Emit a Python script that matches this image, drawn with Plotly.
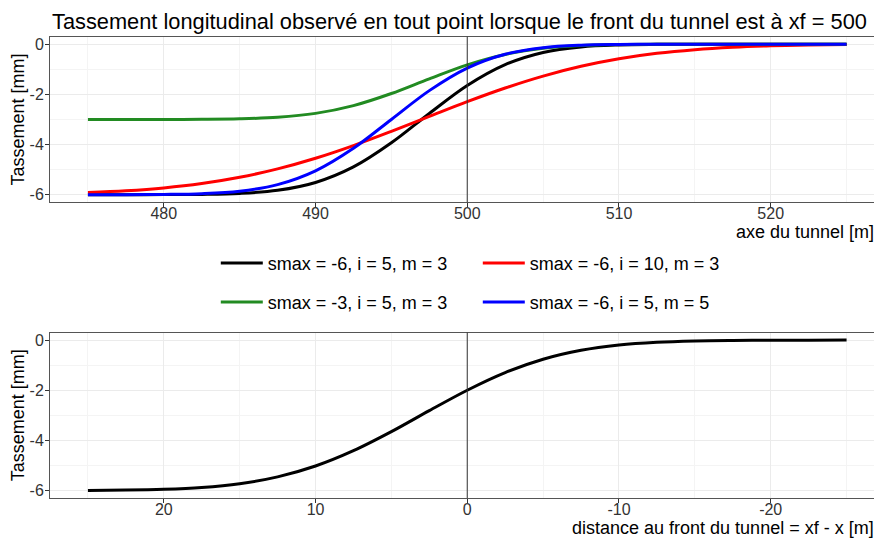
import plotly.graph_objects as go

# ---------------- data ----------------
x_axis = [475, 477.5, 480, 482.5, 485, 487.5, 490, 492.5, 495, 497.5, 500,
          502.5, 505, 507.5, 510, 512.5, 515, 517.5, 520, 522.5, 525]

s_black = [-6.000, -6.000, -5.998, -5.989, -5.951, -5.828, -5.515, -4.895, -3.932, -2.761, -1.646,
           -0.814, -0.329, -0.107, -0.028, -0.006, -0.001, 0.000, 0.000, 0.000, 0.000]
s_red = [-5.917, -5.846, -5.733, -5.559, -5.309, -4.973, -4.548, -4.042, -3.476, -2.881, -2.292,
         -1.747, -1.271, -0.881, -0.581, -0.363, -0.216, -0.121, -0.064, -0.032, -0.015]
s_green = [-3.000, -3.000, -2.999, -2.994, -2.975, -2.914, -2.758, -2.448, -1.966, -1.381, -0.823,
           -0.407, -0.164, -0.054, -0.014, -0.003, -0.001, 0.000, 0.000, 0.000, 0.000]
s_blue = [-6.000, -5.999, -5.992, -5.963, -5.864, -5.599, -5.048, -4.149, -3.000, -1.851, -0.952,
          -0.401, -0.137, -0.037, -0.008, -0.001, 0.000, 0.000, 0.000, 0.000, 0.000]

series_names = ["smax = -6, i = 5, m = 3", "smax = -6, i = 10, m = 3",
                "smax = -3, i = 5, m = 3", "smax = -6, i = 5, m = 5"]

dist_front = [25, 22.5, 20, 17.5, 15, 12.5, 10, 7.5, 5, 2.5, 0,
              -2.5, -5, -7.5, -10, -12.5, -15, -17.5, -20, -22.5, -25]
s_front = [-5.994, -5.982, -5.950, -5.877, -5.727, -5.456, -5.023, -4.412, -3.652, -2.813, -1.999,
           -1.297, -0.764, -0.407, -0.195, -0.084, -0.032, -0.011, -0.003, -0.001, 0.000]

top_x_ticks = [480, 490, 500, 510, 520]
top_x_labels = ["480", "490", "500", "510", "520"]
bot_x_ticks = [20, 10, 0, -10, -20]
bot_x_labels = ["20", "10", "0", "-10", "-20"]
y_ticks = [0, -2, -4, -6]
y_labels = ["0", "-2", "-4", "-6"]

xf = 500
title_text = "Tassement longitudinal observé en tout point lorsque le front du tunnel est à xf = 500"

# ---------------- figure ----------------
# the page body has an 8px margin, so the figure is drawn 8px smaller
OFF = 8
W, H = 882 - OFF, 541 - OFF
ML = 50 - OFF
PW = W - ML
FONT = "Liberation Sans, Arial, sans-serif"

def py(px):  # screen pixel from top -> paper y
    return 1 - (px - OFF) / H

def pxp(px):  # screen pixel from left -> paper x
    return (px - OFF - ML) / PW

fig = go.Figure()

colors = ["#000000", "#FF0000", "#228B22", "#0000FF"]
ys = [s_black, s_red, s_green, s_blue]
legends = ["legend", "legend", "legend2", "legend2"]
for name, col, yv, lg in zip(series_names, colors, ys, legends):
    fig.add_trace(go.Scatter(x=x_axis, y=yv, mode="lines", name=name,
                             line=dict(color=col, width=3, shape="spline"),
                             legend=lg, xaxis="x", yaxis="y"))

fig.add_trace(go.Scatter(x=dist_front, y=s_front, mode="lines", showlegend=False,
                         line=dict(color="#000000", width=3, shape="spline"),
                         xaxis="x2", yaxis="y2"))

grid_major = "#EBEBEB"
grid_minor = "#F4F4F4"
border = "#555555"

common_axis = dict(showline=True, mirror=True, linecolor=border, linewidth=1,
                   ticks="outside", ticklen=4, tickcolor="#333333",
                   gridcolor=grid_major, gridwidth=1, zeroline=False,
                   tickfont=dict(family=FONT, size=16, color="#333333"))

legend_common = dict(orientation="h", xanchor="left", yanchor="middle",
                     entrywidth=205, itemwidth=42,
                     font=dict(family=FONT, size=18, color="#000000"),
                     bgcolor="rgba(0,0,0,0)")

fig.update_layout(
    width=W, height=H,
    margin=dict(l=ML, r=0, t=0, b=0),
    plot_bgcolor="white", paper_bgcolor="white",
    font=dict(family=FONT, color="#000000"),
    title=dict(text=title_text, x=(52 - OFF) / W, xanchor="left", xref="container",
               y=1 - (21 - OFF) / H, yanchor="middle", yref="container",
               font=dict(family=FONT, size=21.8, color="#000000")),
    xaxis=dict(domain=[0, 1], range=[472.5, 527.27], anchor="y",
               tickmode="array", tickvals=top_x_ticks, ticktext=top_x_labels,
               ticklabelstandoff=-7,
               minor=dict(tickmode="array", tickvals=[475, 485, 495, 505, 515, 525],
                          showgrid=True, gridcolor=grid_minor, gridwidth=1),
               **common_axis),
    yaxis=dict(domain=[py(201.9), py(35.8)], range=[-6.3, 0.3], anchor="x",
               tickmode="array", tickvals=y_ticks, ticktext=y_labels,
               ticklabelstandoff=-2,
               minor=dict(tickmode="array", tickvals=[-1, -3, -5],
                          showgrid=True, gridcolor=grid_minor, gridwidth=1),
               title=dict(text="Tassement [mm]", standoff=6,
                          font=dict(family=FONT, size=18, color="#000000")),
               **common_axis),
    xaxis2=dict(domain=[0, 1], range=[27.5, -27.27], anchor="y2",
                tickmode="array", tickvals=bot_x_ticks, ticktext=bot_x_labels,
                ticklabelstandoff=-7,
                minor=dict(tickmode="array", tickvals=[25, 15, 5, -5, -15, -25],
                           showgrid=True, gridcolor=grid_minor, gridwidth=1),
                **common_axis),
    yaxis2=dict(domain=[py(498.9), py(332.8)], range=[-6.3, 0.3], anchor="x2",
                tickmode="array", tickvals=y_ticks, ticktext=y_labels,
                ticklabelstandoff=-2,
                minor=dict(tickmode="array", tickvals=[-1, -3, -5],
                           showgrid=True, gridcolor=grid_minor, gridwidth=1),
                title=dict(text="Tassement [mm]", standoff=6,
                           font=dict(family=FONT, size=18, color="#000000")),
                **common_axis),
    legend=dict(x=pxp(216), y=py(263.3), **legend_common),
    legend2=dict(x=pxp(216), y=py(302.3), **legend_common),
)

# vertical lines at the tunnel front
fig.add_shape(type="line", x0=xf, x1=xf, y0=0, y1=1, xref="x", yref="y domain",
              line=dict(color="#333333", width=1))
fig.add_shape(type="line", x0=0, x1=0, y0=0, y1=1, xref="x2", yref="y2 domain",
              line=dict(color="#333333", width=1))

# x axis titles (right aligned as in the reference)
fig.add_annotation(text="axe du tunnel [m]", xref="paper", yref="paper",
                   x=pxp(877), y=py(232), xanchor="right", yanchor="middle",
                   showarrow=False, font=dict(family=FONT, size=18, color="#000000"))
fig.add_annotation(text="distance au front du tunnel = xf - x [m]", xref="paper", yref="paper",
                   x=pxp(877), y=py(529), xanchor="right", yanchor="middle",
                   showarrow=False, font=dict(family=FONT, size=18, color="#000000"))

fig.write_html("out.html")
